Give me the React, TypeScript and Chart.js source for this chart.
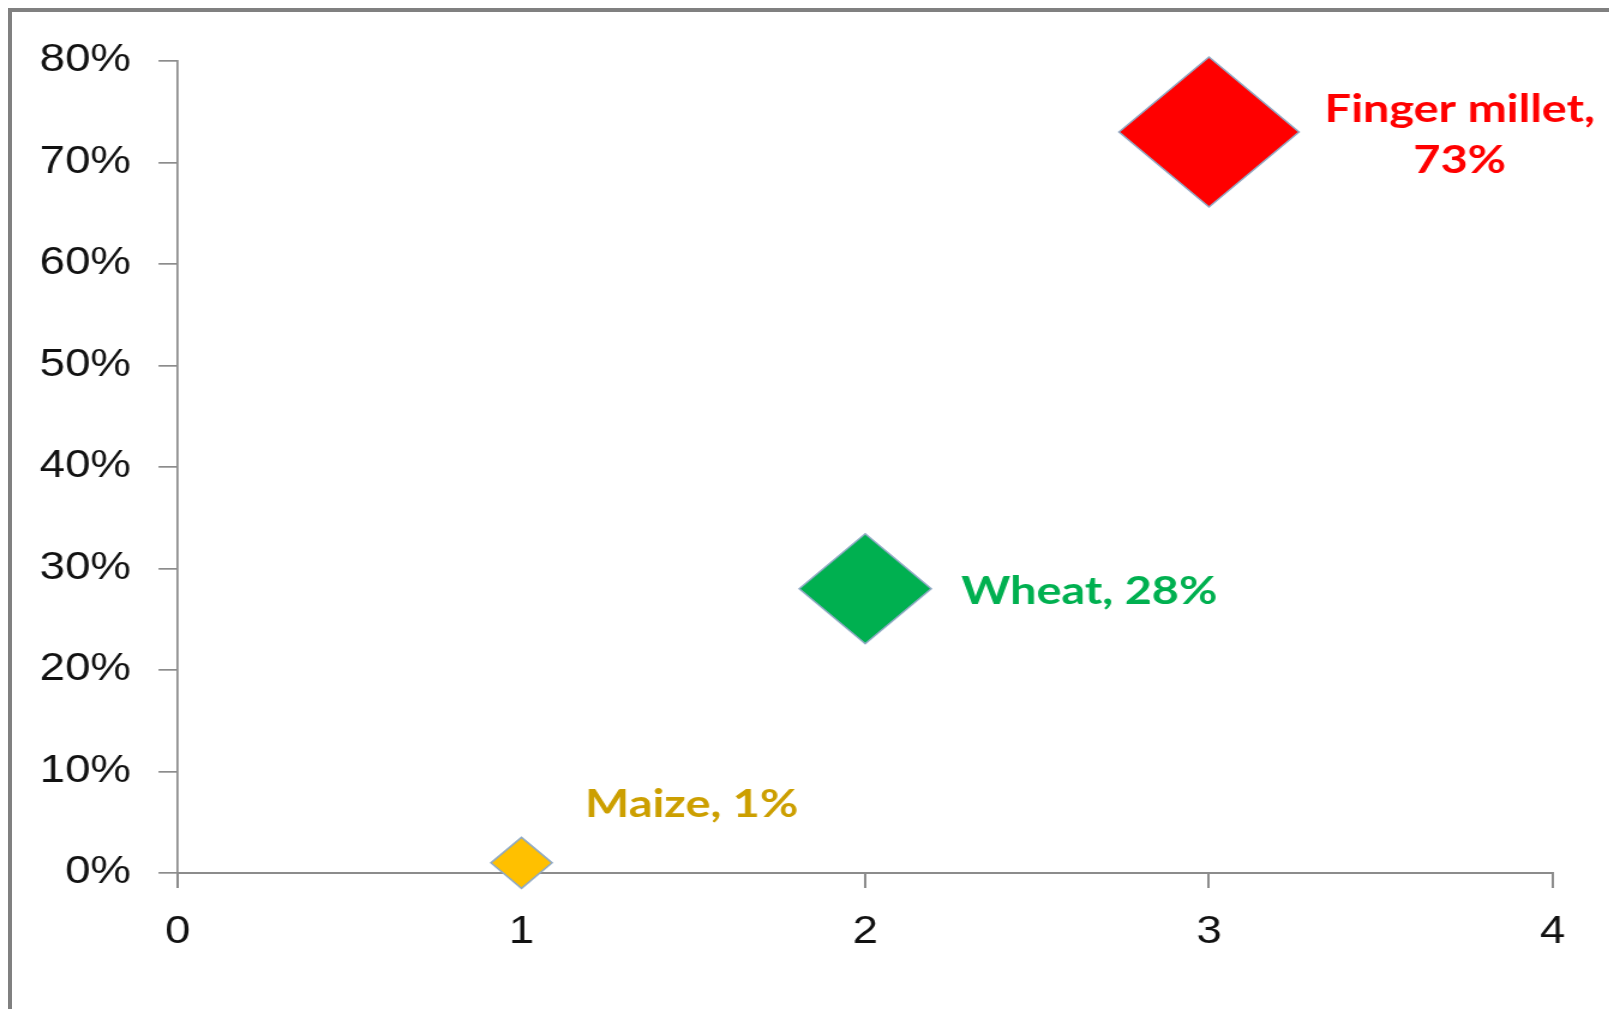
import React, { useEffect, useRef } from "react";
import { Chart, registerables } from "chart.js";

Chart.register(...registerables);

// ---- data ----
const crops: string[] = ["Maize", "Wheat", "Finger millet"];
const xValues: number[] = [1, 2, 3];
const shares: number[] = [1, 28, 73]; // percent
const xTickValues: number[] = [0, 1, 2, 3, 4];
const yTickValues: number[] = [0, 10, 20, 30, 40, 50, 60, 70, 80];
const markerColors: string[] = ["#FFC000", "#00B050", "#FF0000"];
const labelColors: string[] = ["#CC9F00", "#00B050", "#FF0000"];
const markerSizes: number[] = [25.5, 55, 75];
const wrapLabel: boolean[] = [false, false, true];

const STRETCH = 1.2;
const LOCAL_W = 1589 / STRETCH;
const LOCAL_H = 989;
const AXIS_GRAY = "#8c8c8c";

const labelOffsets: { dx: number; dy: number; align: CanvasTextAlign }[] = [
  { dx: 53, dy: -58, align: "left" },
  { dx: 80, dy: 3, align: "left" },
  { dx: 209, dy: 3, align: "center" },
];

const dataLabelPlugin = {
  id: "cropLabels",
  afterDatasetsDraw(chart: any) {
    const ctx = chart.ctx as CanvasRenderingContext2D;
    const meta = chart.getDatasetMeta(0);
    ctx.save();
    ctx.font = "bold 39px Lato";
    ctx.textBaseline = "middle";
    meta.data.forEach((pt: any, i: number) => {
      const off = labelOffsets[i];
      const lines = wrapLabel[i]
        ? [`${crops[i]},`, `${shares[i]}%`]
        : [`${crops[i]}, ${shares[i]}%`];
      const lh = 51;
      const startY = pt.y + off.dy - ((lines.length - 1) * lh) / 2;
      ctx.fillStyle = labelColors[i];
      ctx.textAlign = off.align;
      lines.forEach((t, k) => {
        ctx.fillText(t, pt.x + off.dx, startY + k * lh);
      });
    });
    ctx.restore();
  },
};

const zeroPadding = (s: any) => {
  s.paddingLeft = 0;
  s.paddingRight = 0;
  s.paddingTop = 0;
  s.paddingBottom = 0;
};

export default function App() {
  const canvasRef = useRef<HTMLCanvasElement | null>(null);

  useEffect(() => {
    if (!canvasRef.current) return;
    const chart = new Chart(canvasRef.current, {
      type: "scatter",
      data: {
        datasets: [
          {
            label: "Share",
            data: xValues.map((x, i) => ({ x, y: shares[i] })),
            pointStyle: "rectRot",
            pointRadius: markerSizes,
            pointHoverRadius: markerSizes,
            backgroundColor: markerColors,
            borderColor: "#8FA9C4",
            borderWidth: 1.5,
            clip: false,
          } as any,
        ],
      },
      options: {
        animation: false,
        responsive: true,
        maintainAspectRatio: false,
        layout: {
          autoPadding: false,
          padding: { left: 0, right: LOCAL_W - 1283.9, top: 49, bottom: 0 },
        },
        plugins: {
          legend: { display: false },
          tooltip: { enabled: false },
          title: { display: false },
        },
        scales: {
          x: {
            type: "linear",
            min: xTickValues[0],
            max: xTickValues[xTickValues.length - 1],
            afterBuildTicks: (s: any) => {
              s.ticks = xTickValues.map((v) => ({ value: v }));
            },
            afterFit: (s: any) => {
              s.height = LOCAL_H - 861;
              zeroPadding(s);
            },
            ticks: {
              font: { family: "'Liberation Sans', Arial, sans-serif", size: 38 },
              color: "#111",
              padding: 22,
              maxRotation: 0,
            },
            grid: {
              drawOnChartArea: false,
              drawTicks: true,
              tickLength: 15,
              color: AXIS_GRAY,
              lineWidth: 2,
            },
            border: { display: true, color: AXIS_GRAY, width: 2 },
          },
          y: {
            type: "linear",
            min: yTickValues[0],
            max: yTickValues[yTickValues.length - 1],
            afterBuildTicks: (s: any) => {
              s.ticks = yTickValues.map((v) => ({ value: v }));
            },
            afterFit: (s: any) => {
              s.width = 138.1;
              zeroPadding(s);
            },
            ticks: {
              font: { family: "'Liberation Sans', Arial, sans-serif", size: 38 },
              color: "#111",
              padding: 23,
              callback: (v: any) => `${v}%`,
            },
            grid: {
              drawOnChartArea: false,
              drawTicks: true,
              tickLength: 16,
              color: AXIS_GRAY,
              lineWidth: 1.7,
            },
            border: { display: true, color: AXIS_GRAY, width: 1.7 },
          },
        },
      },
      plugins: [dataLabelPlugin],
    });
    return () => chart.destroy();
  }, []);

  return (
    <div
      style={{
        position: "fixed",
        top: 8,
        left: 8,
        right: 0,
        bottom: -20,
        boxSizing: "border-box",
        borderTop: `4px solid #808080`,
        borderLeft: `4px solid #808080`,
        overflow: "hidden",
        background: "#fff",
      }}
    >
      <div
        style={{
          position: "relative",
          width: LOCAL_W,
          height: LOCAL_H,
          transform: `scaleX(${STRETCH})`,
          transformOrigin: "0 0",
        }}
      >
        <canvas ref={canvasRef} />
      </div>
    </div>
  );
}
